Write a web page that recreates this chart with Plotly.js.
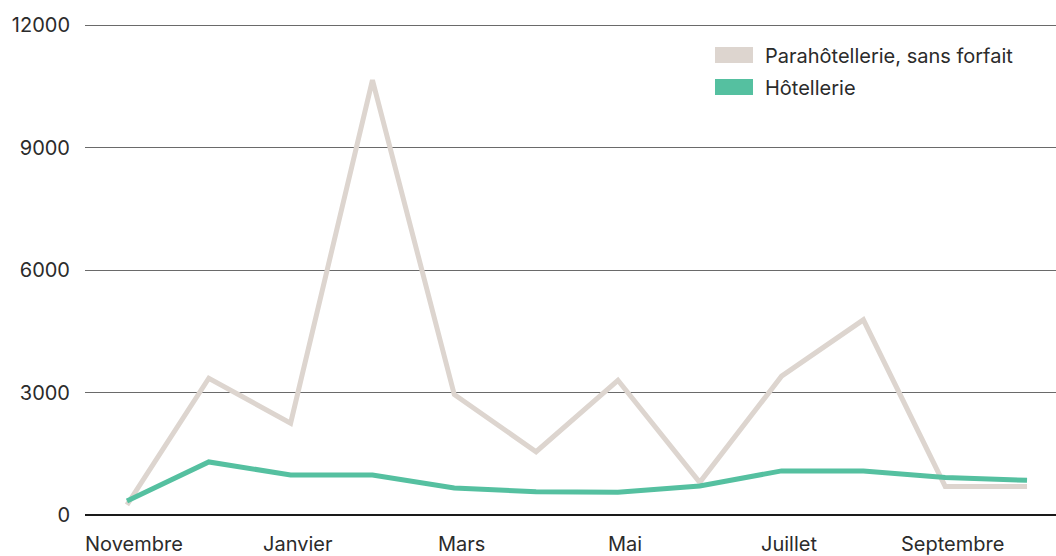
<!DOCTYPE html>
<html>
<head>
<meta charset="utf-8">
<script src="https://cdn.plot.ly/plotly-3.0.1.min.js"></script>
<style>html,body{margin:0;padding:0;background:#fff;}#chart{width:1056px;height:556px;}</style>
</head>
<body>
<div id="chart"></div>
<script>
const months = ["Novembre","Décembre","Janvier","Février","Mars","Avril","Mai","Juin","Juillet","Août","Septembre","Octobre"];
const tickLabels = ["Novembre","Janvier","Mars","Mai","Juillet","Septembre"];
const yTicks = [0, 3000, 6000, 9000, 12000];
const parahotellerie = [250, 3350, 2250, 10650, 2950, 1550, 3300, 800, 3400, 4780, 700, 700];
const hotellerie = [340, 1300, 980, 980, 660, 570, 560, 710, 1080, 1080, 920, 850];
const seriesNames = ["Parahôtellerie, sans forfait", "Hôtellerie"];
const colors = ["#ddd5cf", "#55c0a0"];

const font = "Inter, 'Open Sans', sans-serif";
const txt = "#2b2b2b";
const traces = [
  {x: months.map((m,i)=>i), y: parahotellerie, name: seriesNames[0], type: "scatter", mode: "lines",
   line: {color: colors[0], width: 5}, showlegend: false, hoverinfo: "skip"},
  {x: months.map((m,i)=>i), y: hotellerie, name: seriesNames[1], type: "scatter", mode: "lines",
   line: {color: colors[1], width: 5}, showlegend: false, hoverinfo: "skip"}
];
const tickvals = tickLabels.map(t => months.indexOf(t));
const pT = 22, pB = 41, plotH = 556 - pT - pB;
const yMax = 12000 * plotH / (plotH - 3);
const yp = px => (556 - pB - px) / plotH;
const xp = px => (px - 85) / 971;

const shapes = [
  {type: "rect", xref: "paper", yref: "paper", x0: xp(715), x1: xp(753),
   y0: yp(63), y1: yp(47), fillcolor: colors[0], line: {width: 0}},
  {type: "rect", xref: "paper", yref: "paper", x0: xp(715), x1: xp(753),
   y0: yp(95), y1: yp(79), fillcolor: colors[1], line: {width: 0}}
];
const annotations = [
  {xref: "paper", yref: "paper", x: xp(763), y: yp(56), xanchor: "left", yanchor: "middle",
   text: seriesNames[0], showarrow: false, font: {size: 20, color: txt}},
  {xref: "paper", yref: "paper", x: xp(763), y: yp(88), xanchor: "left", yanchor: "middle",
   text: seriesNames[1], showarrow: false, font: {size: 20, color: txt}}
].concat(tickLabels.map((t, k) => ({
  xref: "x", yref: "paper", x: tickvals[k], y: 0, xanchor: "center", yanchor: "top",
  xshift: 7, yshift: -16, borderpad: 0, text: t, showarrow: false, font: {size: 20, color: txt}
})));

const layout = {
  width: 1056, height: 556,
  margin: {l: 85, r: 0, t: pT, b: pB},
  paper_bgcolor: "#fff", plot_bgcolor: "#fff",
  font: {family: font, size: 20, color: txt},
  xaxis: {range: [-0.513, 11.354], tickvals: tickvals, showticklabels: false, showgrid: false,
          zeroline: false, showline: false, ticks: ""},
  yaxis: {range: [0, yMax], tickvals: yTicks, ticktext: yTicks.map(String), showgrid: true, gridcolor: "#6a6a6a",
          gridwidth: 1, zeroline: true, zerolinecolor: "#1a1a1a", zerolinewidth: 1.3, ticks: "", showline: false,
          tickfont: {size: 20, color: txt}, ticklabelstandoff: 14},
  shapes: shapes,
  annotations: annotations
};
Plotly.newPlot("chart", traces, layout, {staticPlot: true, displayModeBar: false});
</script>
</body>
</html>
